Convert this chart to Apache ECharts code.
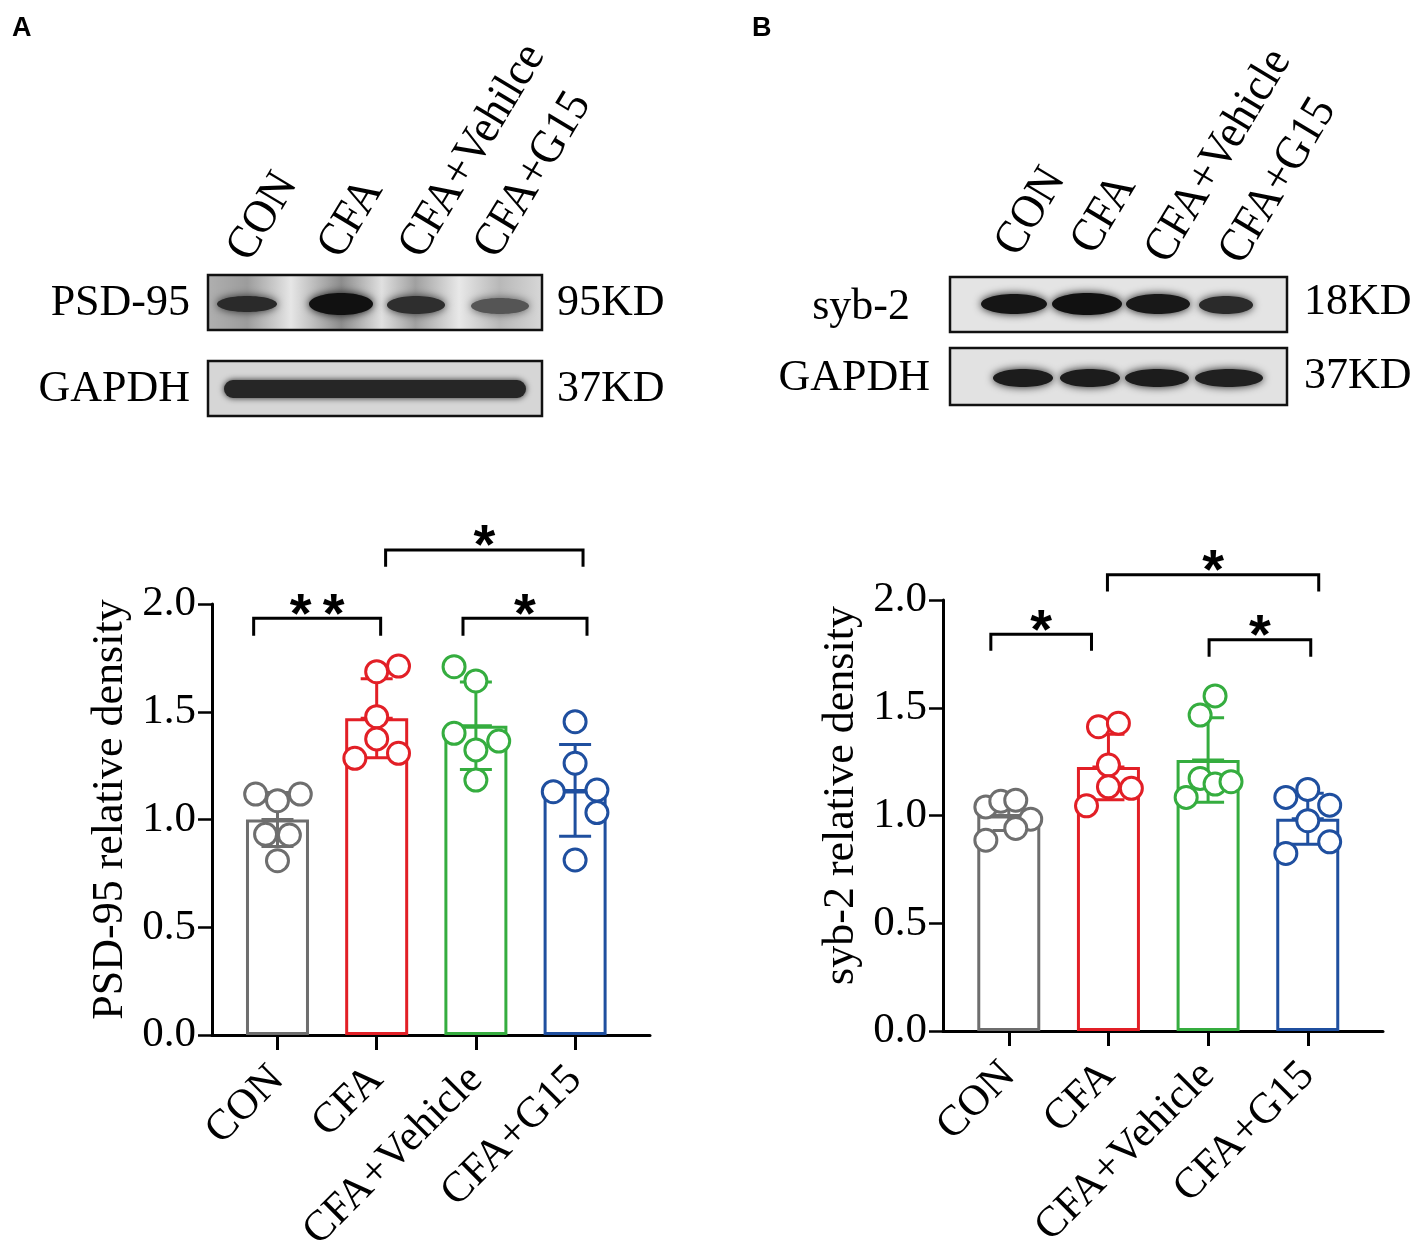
<!DOCTYPE html>
<html>
<head>
<meta charset="UTF-8">
<style>
html, body { margin: 0; padding: 0; background: #fff; }
#main { width: 1421px; height: 1250px; }
</style>
</head>
<body>
<div id="main"></div>
<script src="https://cdn.jsdelivr.net/npm/echarts@6.0.0/dist/echarts.min.js"></script>
<script type="text/javascript">
// groups (the blot of panel A is labelled "Vehilce" in the figure)
var groups = ['CON', 'CFA', 'CFA+Vehicle', 'CFA+G15'];
var lanesA = ['CON', 'CFA', 'CFA+Vehilce', 'CFA+G15'];
var lanesB = ['CON', 'CFA', 'CFA+Vehicle', 'CFA+G15'];
var colors = ['#6e6e6e', '#e21f26', '#35ad3f', '#1f4f9f'];

// panel A : PSD-95 relative density
var psdMean = [1.00, 1.47, 1.435, 1.135];
var psdSd = [0.125, 0.183, 0.203, 0.213];
var psdCon = [1.118, 1.118, 1.087, 0.931, 0.928, 0.809];
var psdCfa = [1.686, 1.712, 1.477, 1.374, 1.284, 1.307];
var psdVeh = [1.709, 1.643, 1.400, 1.364, 1.323, 1.183];
var psdG15 = [1.454, 1.261, 1.129, 1.137, 1.032, 0.812];
// sideways spread of the dots, in category widths
var psdJitter = [
  [-0.22, 0.23, 0, -0.12, 0.12, 0],
  [0, 0.22, 0, 0, -0.22, 0.22],
  [-0.22, 0, -0.22, 0.23, 0, 0],
  [0, 0, -0.22, 0.22, 0.22, 0]
];
// brackets: from, to, bar height, leg end, stars
var psdSig = [
  [0.76, 2.04, 1.934, 1.853, '*\u2009*'],
  [2.87, 4.12, 1.934, 1.853, '*'],
  [2.09, 4.08, 2.251, 2.173, '*']
];

// panel B : syb-2 relative density
var sybMean = [1.00, 1.225, 1.258, 0.985];
var sybSd = [0.07, 0.152, 0.196, 0.118];
var sybCon = [1.040, 1.066, 1.071, 0.983, 0.940, 0.885];
var sybCfa = [1.412, 1.428, 1.234, 1.133, 1.126, 1.045];
var sybVeh = [1.555, 1.466, 1.172, 1.146, 1.157, 1.084];
var sybG15 = [1.084, 1.121, 1.048, 0.976, 0.878, 0.824];
var sybJitter = [
  [-0.23, -0.08, 0.07, 0.22, 0.07, -0.23],
  [-0.10, 0.10, 0, 0, 0.23, -0.22],
  [0.07, -0.08, -0.08, 0.07, 0.23, -0.22],
  [-0.22, 0, 0.22, 0, 0.22, -0.22]
];
var sybSig = [
  [0.82, 1.83, 1.841, 1.764, '*'],
  [3.01, 4.03, 1.815, 1.737, '*'],
  [1.99, 4.11, 2.117, 2.039, '*']
];

var SERIF = '"Liberation Serif", "Times New Roman", serif';
var myChart = echarts.init(document.getElementById('main'));

function panelSeries(gi, means, sds, pts, jitter, sig) {
  var list = [];
  // hollow bars
  list.push({
    type: 'bar', xAxisIndex: gi, yAxisIndex: gi, barWidth: 63, z: 2,
    data: means.map(function (m, i) {
      return { value: [i + 1, m], itemStyle: { color: 'rgba(255,255,255,0)', borderColor: colors[i], borderWidth: 3 } };
    })
  });
  // mean +- SD
  list.push({
    type: 'custom', xAxisIndex: gi, yAxisIndex: gi, z: 3, clip: false,
    data: means.map(function (m, i) { return [i + 1, m, sds[i]]; }),
    renderItem: function (params, api) {
      var x = api.value(0), m = api.value(1), s = api.value(2);
      var t = api.coord([x, m + s]), b = api.coord([x, m - s]), c = api.coord([x, m]);
      var st = { stroke: colors[params.dataIndex], lineWidth: 3 };
      return { type: 'group', children: [
        { type: 'line', shape: { x1: t[0], y1: t[1], x2: b[0], y2: b[1] }, style: st },
        { type: 'line', shape: { x1: t[0] - 16, y1: t[1], x2: t[0] + 16, y2: t[1] }, style: st },
        { type: 'line', shape: { x1: b[0] - 16, y1: b[1], x2: b[0] + 16, y2: b[1] }, style: st },
        { type: 'line', shape: { x1: c[0] - 16, y1: c[1], x2: c[0] + 16, y2: c[1] }, style: st }
      ] };
    }
  });
  // dots
  pts.forEach(function (vals, i) {
    list.push({
      type: 'scatter', xAxisIndex: gi, yAxisIndex: gi, z: 4,
      symbol: 'circle', symbolSize: 22,
      itemStyle: { color: '#fff', borderColor: colors[i], borderWidth: 3, opacity: 1 },
      data: vals.map(function (v, k) { return [i + 1 + jitter[i][k], v]; })
    });
  });
  // significance brackets
  list.push({
    type: 'custom', xAxisIndex: gi, yAxisIndex: gi, z: 5, clip: false,
    data: sig.map(function (s) { return [s[0], s[1], s[2], s[3]]; }),
    renderItem: function (params, api) {
      var a = api.coord([api.value(0), api.value(2)]);
      var b = api.coord([api.value(1), api.value(2)]);
      var leg = api.coord([api.value(0), api.value(3)]);
      return { type: 'group', children: [
        { type: 'polyline', shape: { points: [[a[0], leg[1]], [a[0], a[1]], [b[0], b[1]], [b[0], leg[1]]] },
          style: { stroke: '#000', lineWidth: 3, fill: null } },
        { type: 'text', style: { text: sig[params.dataIndex][4], x: (a[0] + b[0]) / 2, y: a[1] - 2,
          textAlign: 'center', textVerticalAlign: 'middle', fill: '#000',
          font: 'bold 56px "Liberation Sans", Arial, sans-serif' } }
      ] };
    }
  });
  return list;
}

function xAxisOf(gi) {
  return {
    type: 'value', gridIndex: gi, min: 0.34, max: 4.755,
    axisLine: { show: true, onZero: false, lineStyle: { color: '#000', width: 3 } },
    axisTick: { show: true, customValues: [1, 2, 3, 4], length: 15, lineStyle: { color: '#000', width: 3 } },
    axisLabel: { customValues: [1, 2, 3, 4], rotate: 45, margin: 38, color: '#000', fontSize: 43, fontFamily: SERIF,
      formatter: function (v) { return groups[Math.round(v) - 1] || ''; } },
    splitLine: { show: false }
  };
}

function yAxisOf(gi, name, shift) {
  return {
    type: 'value', gridIndex: gi, min: 0, max: 2, interval: 0.5,
    name: name, nameLocation: 'middle', nameRotate: 90, nameGap: 80,
    nameTextStyle: { color: '#000', fontSize: 44, fontFamily: SERIF, padding: [0, 0, 0, shift] },
    axisLine: { show: true, lineStyle: { color: '#000', width: 3 } },
    axisTick: { show: true, length: 14, lineStyle: { color: '#000', width: 2.5 } },
    axisLabel: { color: '#000', fontSize: 43, fontFamily: SERIF, margin: 16,
      formatter: function (v) { return v.toFixed(1); } },
    splitLine: { show: false }
  };
}

// western blot pictures, drawn as plain shapes
function txt(x, y, s, align, font) {
  return { type: 'text', x: x, y: y, z: 10,
    style: { text: s, x: 0, y: 0, textAlign: align, textVerticalAlign: 'middle', fill: '#000', font: font } };
}
function lane(x, y, s) {
  return { type: 'text', x: x, y: y, z: 10, rotation: 59 * Math.PI / 180, scaleX: 0.94,
    style: { text: s, x: 0, y: 0, textAlign: 'left', textVerticalAlign: 'middle', fill: '#000', font: '47px ' + SERIF } };
}
function box(x, y, w, h, fill) {
  return { type: 'rect', shape: { x: x, y: y, width: w, height: h }, z: 5,
    style: { fill: fill, stroke: '#111', lineWidth: 2.5 } };
}
function band(cx, cy, rx, ry, color) {
  return { type: 'ellipse', shape: { cx: cx, cy: cy, rx: rx, ry: ry }, z: 6,
    style: { fill: color, shadowBlur: 8, shadowColor: color } };
}
function hGrad(stops) {
  return new echarts.graphic.LinearGradient(0, 0, 1, 0, stops.map(function (s) { return { offset: s[0], color: s[1] }; }));
}

var LBL = '44px ' + SERIF;
var graphics = [
  txt(12, 29, 'A', 'left', 'bold 27px "Liberation Sans", Arial, sans-serif'),
  txt(752, 29, 'B', 'left', 'bold 27px "Liberation Sans", Arial, sans-serif'),

  // panel A
  lane(239, 257, lanesA[0]),
  lane(330, 254, lanesA[1]),
  lane(411, 254, lanesA[2]),
  lane(486, 254, lanesA[3]),
  txt(190, 303, 'PSD-95', 'right', LBL),
  txt(190, 389, 'GAPDH', 'right', LBL),
  txt(557, 303, '95KD', 'left', LBL),
  txt(557, 389, '37KD', 'left', LBL),
  box(208, 275, 334, 55, hGrad([[0, '#b0b0b0'], [0.12, '#9c9c9c'], [0.25, '#e6e6e6'], [0.4, '#8c8c8c'],
    [0.52, '#e0e0e0'], [0.62, '#a0a0a0'], [0.75, '#e8e8e8'], [0.87, '#b8b8b8'], [1, '#d8d8d8']])),
  band(247, 304, 30, 8, '#2a2a2a'),
  band(341, 304, 32, 11, '#111'),
  band(416, 305, 29, 9, '#2e2e2e'),
  band(500, 306, 29, 8, '#555'),
  box(208, 361, 334, 55, '#d6d6d6'),
  { type: 'rect', shape: { x: 224, y: 380, width: 302, height: 18, r: 9 }, z: 6,
    style: { fill: '#262626', shadowBlur: 6, shadowColor: '#262626' } },

  // panel B
  lane(1007, 252, lanesB[0]),
  lane(1083, 250, lanesB[1]),
  lane(1157, 259, lanesB[2]),
  lane(1231, 260, lanesB[3]),
  txt(910, 307, 'syb-2', 'right', LBL),
  txt(930, 378, 'GAPDH', 'right', LBL),
  txt(1304, 302, '18KD', 'left', LBL),
  txt(1304, 376, '37KD', 'left', LBL),
  box(950, 277, 337, 55, '#e4e4e4'),
  band(1014, 304, 33, 10, '#151515'),
  band(1087, 304, 35, 11, '#111'),
  band(1158, 304, 32, 10, '#181818'),
  band(1226, 305, 27, 9, '#2a2a2a'),
  box(950, 348, 337, 57, '#e2e2e2'),
  band(1023, 378, 30, 9, '#1c1c1c'),
  band(1090, 378, 30, 9, '#1c1c1c'),
  band(1157, 378, 32, 9, '#1c1c1c'),
  band(1229, 378, 34, 9, '#202020')
];

var option = {
  animation: false,
  backgroundColor: '#fff',
  grid: [
    { left: 212, top: 604, width: 438, height: 431, outerBoundsMode: 'none', containLabel: false },
    { left: 943, top: 600, width: 440, height: 431, outerBoundsMode: 'none', containLabel: false }
  ],
  xAxis: [xAxisOf(0), xAxisOf(1)],
  yAxis: [yAxisOf(0, 'PSD-95 relative density', 20), yAxisOf(1, 'syb-2 relative density', 40)],
  graphic: graphics,
  series: panelSeries(0, psdMean, psdSd, [psdCon, psdCfa, psdVeh, psdG15], psdJitter, psdSig)
    .concat(panelSeries(1, sybMean, sybSd, [sybCon, sybCfa, sybVeh, sybG15], sybJitter, sybSig))
};

myChart.setOption(option);
</script>
</body>
</html>
